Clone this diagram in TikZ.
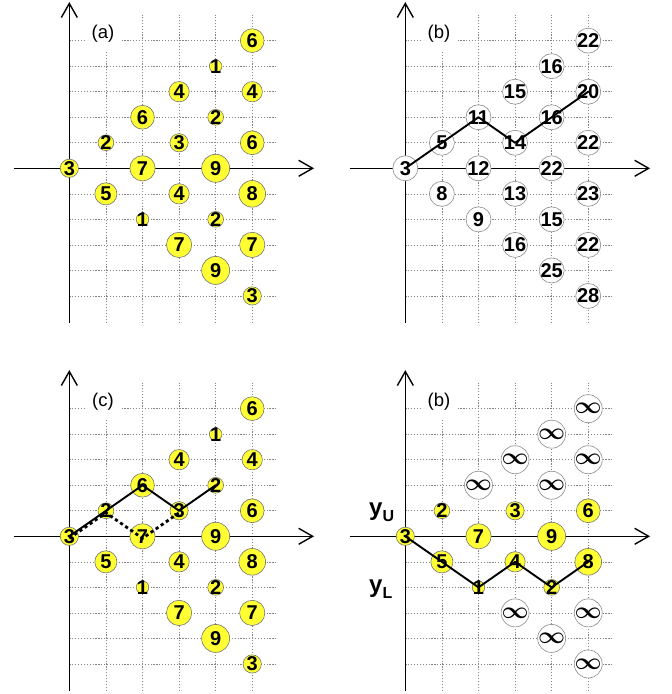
\documentclass[tikz,border=0pt]{standalone}
\usepackage{fontspec}
\setsansfont{Liberation Sans}
\usetikzlibrary{arrows.meta}
\definecolor{ballyellow}{RGB}{255,255,51}
\newcommand{\panelbg}[2]{%
  \foreach \r in {-5,-4,-3,-2,-1,1,2,3,4,5} \draw[gridline] (0,\r) -- (5.705,\r);
  \foreach \c in {1,2,3,4,5} \draw[gridline] (\c,-6.05) -- (\c,6.0);
  \node[lbl] (#2) at (0.92,5.29) {#1};
  \coordinate (#2xl) at (-1.513,0); \coordinate (#2xr) at (6.69,0);
  \coordinate (#2yb) at (0,-6.05); \coordinate (#2yt) at (0,6.51);
  \draw[axis] (#2xl) -- (#2xr);
  \draw[axis] (#2yb) -- (#2yt);
}
\newcommand{\yellowset}[1]{%
  \foreach \c/\r/\v/\n in {0/0/3/00, 1/1/2/11, 1/-1/5/1m1, 2/2/6/22, 2/0/7/20, 2/-2/1/2m2,
     3/3/4/33, 3/1/3/31, 3/-1/4/3m1, 3/-3/7/3m3, 4/4/1/44, 4/2/2/42, 4/0/9/40, 4/-2/2/4m2,
     4/-4/9/4m4, 5/5/6/55, 5/3/4/53, 5/1/6/51, 5/-1/8/5m1, 5/-3/7/5m3, 5/-5/3/5m5}
    \node[yball=\v, label={[num]center:\v}] (#1\n) at (\c,\r) {};
}
\newcommand{\biginf}{{\boldmath\scalebox{2.35}{$\infty$}}}
\begin{document}
\begin{tikzpicture}[x=1pt,y=-1pt,
  gridline/.style={draw=black!48, line width=0.65pt, dash pattern=on 1.2pt off 1.7pt},
  axis/.style={line width=1.4pt, -{Straight Barb[length=14pt,width=16pt]}},
  lbl/.style={font=\sffamily\fontsize{18.5}{18.5}\selectfont, fill=white, inner sep=0pt, minimum width=34pt, minimum height=38pt},
  num/.style={font=\sffamily\bfseries\fontsize{20}{20}\selectfont, inner sep=0pt},
  yball/.style={circle, inner sep=0pt, fill=ballyellow, draw=black!55, line width=0.6pt, minimum size={4.9pt+7.7pt*sqrt(#1)}},
  wball/.style={circle, inner sep=0pt, fill=white, draw=black!45, line width=0.6pt, minimum size=25pt},
  iball/.style={circle, inner sep=0pt, fill=white, draw=black!45, line width=0.6pt, minimum size=28pt},
  inftxt/.style={inner sep=0pt},
  route/.style={line width=1.9pt, line join=round, line cap=round},
  droute/.style={line width=2.8pt, dash pattern=on 3.2pt off 3pt},
  ylab/.style={font=\sffamily\bfseries, inner sep=0pt, anchor=base west}]
\fill[white] (0,0) rectangle (672,694);
\useasboundingbox (0,0) rectangle (672,694);

% (a)
\begin{scope}[shift={(69.33,168.3)}, x=36.58pt, y=25.53pt]
  \panelbg{(a)}{la}
  \yellowset{a}
\end{scope}

% (b) top right
\begin{scope}[shift={(405.33,168.3)}, x=36.58pt, y=25.53pt]
  \panelbg{(b)}{lb}
  \foreach \c/\r/\v/\n in {0/0/3/00, 1/1/5/11, 1/-1/8/1m1, 2/2/11/22, 2/0/12/20, 2/-2/9/2m2,
     3/3/15/33, 3/1/14/31, 3/-1/13/3m1, 3/-3/16/3m3, 4/4/16/44, 4/2/16/42, 4/0/22/40, 4/-2/15/4m2,
     4/-4/25/4m4, 5/5/22/55, 5/3/20/53, 5/1/22/51, 5/-1/23/5m1, 5/-3/22/5m3, 5/-5/28/5m5}
    \node[wball, label={[num]center:\v}] (b\n) at (\c,\r) {};
  \draw[route] (b00.center) -- (b11.center) -- (b22.center) -- (b31.center) -- (b42.center) -- (b53.center);
\end{scope}

% (c) bottom left
\begin{scope}[shift={(69.33,536.3)}, x=36.58pt, y=25.53pt]
  \panelbg{(c)}{lc}
  \yellowset{c}
  \draw[route] (c00.center) -- (c11.center) -- (c22.center) -- (c31.center) -- (c42.center);
  \draw[droute] ([yshift=-2pt]c00.center) -- ([yshift=-2pt]c11.center) -- ([yshift=-2pt]c20.center) -- ([yshift=-2pt]c31.center);
\end{scope}

% (b) bottom right
\begin{scope}[shift={(405.33,536.3)}, x=36.58pt, y=25.53pt]
  \panelbg{(b)}{ld}
  \foreach \c/\r/\v/\n in {0/0/3/00, 1/1/2/11, 1/-1/5/1m1, 2/0/7/20, 2/-2/1/2m2, 3/1/3/31,
     3/-1/4/3m1, 4/0/9/40, 4/-2/2/4m2, 5/1/6/51, 5/-1/8/5m1}
    \node[yball=\v, label={[num]center:\v}] (d\n) at (\c,\r) {};
  \foreach \c/\r/\n in {2/2/22, 3/3/33, 3/-3/3m3, 4/4/44, 4/2/42, 4/-4/4m4, 5/5/55, 5/3/53, 5/-3/5m3, 5/-5/5m5}
    \node[iball, label={[inftxt]center:\biginf}] (d\n) at (\c,\r) {};
  \draw[route] (d00.center) -- (d1m1.center) -- (d2m2.center) -- (d3m1.center) -- (d4m2.center) -- (d5m1.center);
\end{scope}

\node[ylab] (yu) at (369,515.5) {\fontsize{24}{24}\selectfont y\raisebox{-6pt}{\fontsize{16}{16}\selectfont U}};
\node[ylab] (yl) at (369,592.5) {\fontsize{24}{24}\selectfont y\raisebox{-6pt}{\fontsize{16}{16}\selectfont L}};
\end{tikzpicture}
\end{document}
